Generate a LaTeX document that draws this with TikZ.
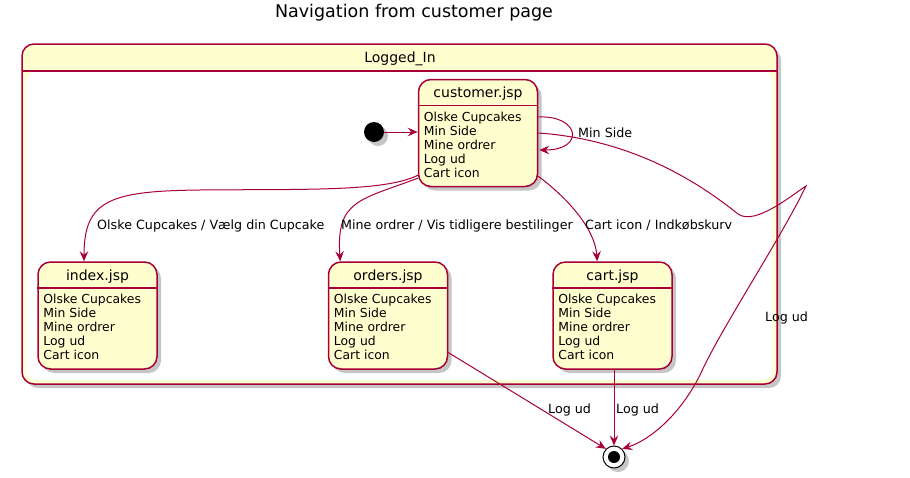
\documentclass[tikz,border=0pt]{standalone}
\usepackage{fontspec}
\setmainfont{DejaVu Sans}
\usetikzlibrary{calc,shadows,arrows.meta}
\definecolor{umlred}{HTML}{A80036}
\definecolor{umlfill}{HTML}{FEFECE}
\tikzset{
  shadowS/.style={drop shadow={shadow xshift=4pt, shadow yshift=-4pt, fill=black!50, opacity=0.45}},
  stateS/.style ={draw=umlred, fill=umlfill, line width=1.5pt, rounded corners=12.5pt,
                  minimum width=119pt, minimum height=107pt, inner sep=0pt, shadowS},
  compS/.style  ={draw=umlred, fill=umlfill, line width=1.5pt, rounded corners=12pt, shadowS},
  transS/.style ={draw=umlred, line width=1pt, -{Stealth[length=10pt, width=8.5pt, inset=3.5pt]}},
  lblS/.style   ={font=\fontsize{12.7}{15}\selectfont, inner sep=0pt, anchor=base west},
  attrS/.style  ={font=\fontsize{12.4}{14}\selectfont, inner sep=0pt, anchor=base west},
  nameS/.style  ={font=\fontsize{14}{16}\selectfont, inner sep=0pt, anchor=base},
  startS/.style ={circle, fill=black, minimum size=20pt, inner sep=0pt, shadowS},
  stopS/.style  ={circle, draw=black, fill=white, line width=1pt, minimum size=22pt, inner sep=0pt, shadowS},
}
\begin{document}
\begin{tikzpicture}[x=1pt, y=-1pt]
  \useasboundingbox (0,0) rectangle (910,477);
  \node[font=\fontsize{17.5}{20}\selectfont, inner sep=0pt, anchor=base] (title) at (414,17) {Navigation from customer page};
  \path[compS] (22,44) rectangle (777,384);
  \fill[white, rounded corners=10pt] (26,72) rectangle (773,380);
  \draw[umlred, line width=1.5pt] (22,71) -- (777,71);
  \node[nameS] (logged) at (400,62) {Logged\_In};
  \foreach \n/\x/\y/\t in {cust/478/133/customer.jsp, index/97.5/315.5/index.jsp,
                           orders/388/315.5/orders.jsp, cart/612.5/315.5/cart.jsp}{
    \node[stateS] (\n) at (\x,\y) {};
    \draw[umlred, line width=1.5pt] ($(\n.north west)+(0,26.5)$) -- ($(\n.north east)+(0,26.5)$);
    \node[nameS] (\n-name) at ($(\n.north)+(0,19)$) {\t};
    \foreach \a [count=\i from 0] in {Olske Cupcakes, Min Side, Mine ordrer, Log ud, Cart icon}
      \node[attrS] (\n-\i) at ($(\n.north west)+(6,42.5+14*\i)$) {\a};
  }
  \node[startS] (start) at (374,132) {};
  \node[stopS] (stop) at (614,457) {};
  \fill[black] (stop) circle (6pt);
  \draw[transS] (start) -- (start -| cust.west);
  \draw[transS] ($(cust.east)+(0,-16)$) .. controls (580,115) and (585,150) .. ($(cust.east)+(1,17)$);
  \node[lblS] (l-min) at (578,137) {Min Side};
  \draw[transS] ($(cust.south west)+(0,-12)$) .. controls (385,192) and (300,189) .. (200,190)
                .. controls (110,191) and (84,200) .. ($(index.north)+(-13.5,0)$);
  \node[lblS] (l-index) at (97,229) {Olske Cupcakes / Vælg din Cupcake};
  \draw[transS] ($(cust.south west)+(0,-9)$) .. controls (360,200) and (336,200) .. ($(orders.north west)+(12.5,0)$);
  \node[lblS] (l-orders) at (341,229) {Mine ordrer / Vis tidligere bestilinger};
  \draw[transS] ($(cust.south east)+(0,-11)$) .. controls (570,200) and (595,230) .. ($(cart.north west)+(45,0)$);
  \node[lblS] (l-cart) at (585,229) {Cart icon / Indkøbskurv};
  \draw[transS] ($(cust.east)+(0,0)$) .. controls (640,140) and (708,190) .. (738,214)
                .. controls (755,226) and (792,195) .. (806,186)
                .. controls (780,240) and (720,330) .. (700,375)
                .. controls (680,415) and (650,440) .. (stop.north east);
  \node[lblS] (l-logud1) at (765,321) {Log ud};
  \draw[transS] ($(orders.east)+(0,37)$) -- (stop.north west);
  \node[lblS] (l-logud2) at (548,413) {Log ud};
  \draw[transS] (stop |- cart.south) -- (stop.north);
  \node[lblS] (l-logud3) at (616,413) {Log ud};
\end{tikzpicture}
\end{document}
